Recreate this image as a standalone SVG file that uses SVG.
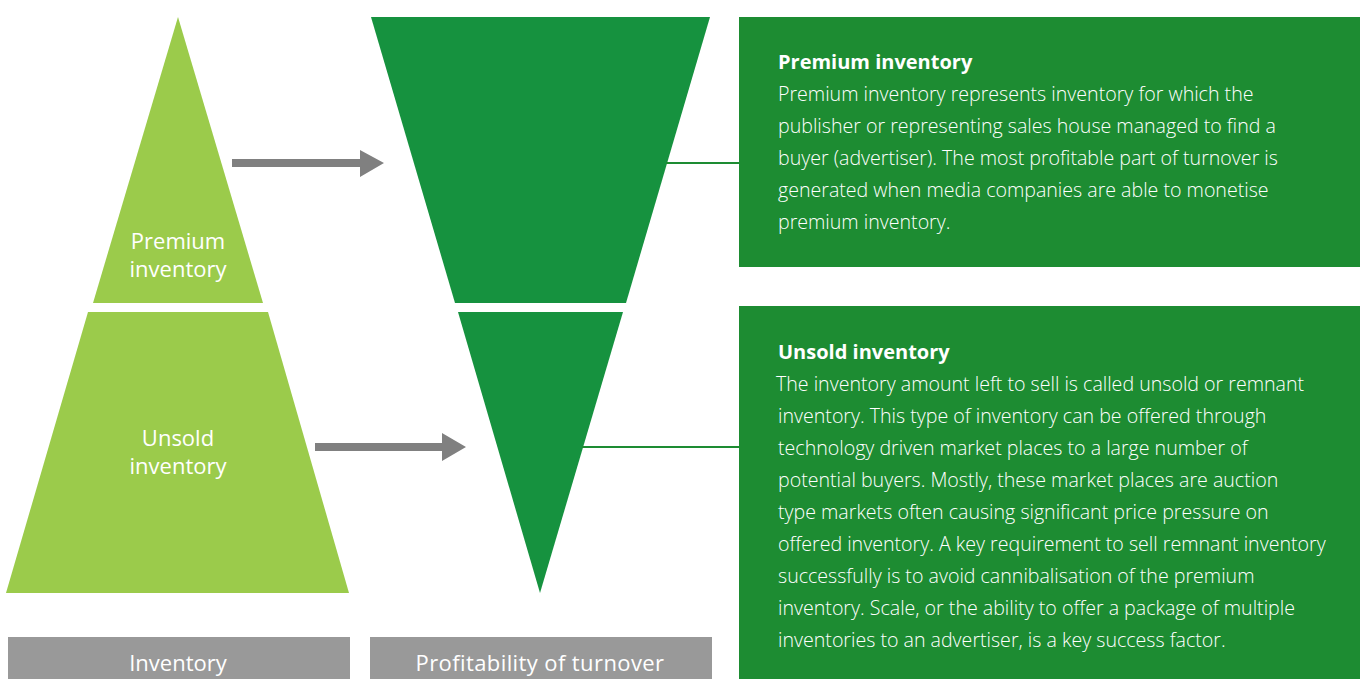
<svg xmlns="http://www.w3.org/2000/svg" width="1360" height="679" viewBox="0 0 1360 679">
  <style>
    .inv { fill: #9bcb4b; }
    .prof { fill: #16923f; }
    .panel { fill: #1d8c32; }
    .tab { fill: #999999; }
    .label { font-family: "Open Sans", "Noto Sans", sans-serif; font-size: 22px; fill: #ffffff; text-anchor: middle; }
    .title { font-family: "Open Sans", "Noto Sans", sans-serif; font-size: 20px; font-weight: 700; fill: #ffffff; }
    .body { font-family: "Open Sans", "Noto Sans", sans-serif; font-size: 19.6px; font-weight: 300; fill: #ffffff; }
    .link { stroke: #1d8c32; stroke-width: 2; fill: none; }
    .arrow { fill: #808080; }
  </style>
  <rect width="1360" height="679" fill="#ffffff"/>

  <!-- inventory pyramid -->
  <g id="premium-inventory">
    <polygon class="inv" points="178,17 263,303 93,303"/>
    <text class="label" x="178" y="249">Premium</text>
    <text class="label" x="178" y="277">inventory</text>
  </g>
  <g id="unsold-inventory">
    <polygon class="inv" points="88,312 268,312 349,593 6,593"/>
    <text class="label" x="178" y="446">Unsold</text>
    <text class="label" x="178" y="474">inventory</text>
  </g>

  <!-- profitability funnel -->
  <g id="premium-profit">
    <polygon class="prof" points="371,17 710,17 626,303 455,303"/>
  </g>
  <g id="unsold-profit">
    <polygon class="prof" points="458,312 623,312 540,593"/>
  </g>

  <!-- axis tabs -->
  <g id="inventory-tab">
    <rect class="tab" x="8" y="637" width="342" height="42"/>
    <text class="label" x="178" y="671">Inventory</text>
  </g>
  <g id="profitability-tab">
    <rect class="tab" x="370" y="637" width="342" height="42"/>
    <text class="label" x="540" y="671" letter-spacing="0.4">Profitability of turnover</text>
  </g>

  <!-- description panels -->
  <g id="premium-panel">
    <rect class="panel" x="739" y="17" width="621" height="250"/>
    <text class="title" x="778" y="69">Premium inventory</text>
    <text class="body">
      <tspan x="778" y="101">Premium inventory represents inventory for which the</tspan>
      <tspan x="778" y="133">publisher or representing sales house managed to find a</tspan>
      <tspan x="778" y="165">buyer (advertiser). The most profitable part of turnover is</tspan>
      <tspan x="778" y="197">generated when media companies are able to monetise</tspan>
      <tspan x="778" y="229">premium inventory.</tspan>
    </text>
  </g>
  <g id="unsold-panel">
    <rect class="panel" x="739" y="306" width="621" height="373"/>
    <text class="title" x="778" y="359">Unsold inventory</text>
    <text class="body">
      <tspan x="776" y="391">The inventory amount left to sell is called unsold or remnant</tspan>
      <tspan x="778" y="423">inventory. This type of inventory can be offered through</tspan>
      <tspan x="778" y="455">technology driven market places to a large number of</tspan>
      <tspan x="778" y="487">potential buyers. Mostly, these market places are auction</tspan>
      <tspan x="778" y="519">type markets often causing significant price pressure on</tspan>
      <tspan x="778" y="551">offered inventory. A key requirement to sell remnant inventory</tspan>
      <tspan x="778" y="583">successfully is to avoid cannibalisation of the premium</tspan>
      <tspan x="778" y="615">inventory. Scale, or the ability to offer a package of multiple</tspan>
      <tspan x="778" y="647">inventories to an advertiser, is a key success factor.</tspan>
    </text>
  </g>

  <!-- connectors -->
  <g id="connectors">
    <polygon class="arrow" points="232,159 360,159 360,150 384,163 360,177 360,167 232,167"/>
    <polygon class="arrow" points="315,443 442,443 442,433 466,447 442,461 442,451 315,451"/>
    <line class="link" x1="666" y1="163" x2="740" y2="163"/>
    <line class="link" x1="582" y1="447" x2="740" y2="447"/>
  </g>
</svg>
